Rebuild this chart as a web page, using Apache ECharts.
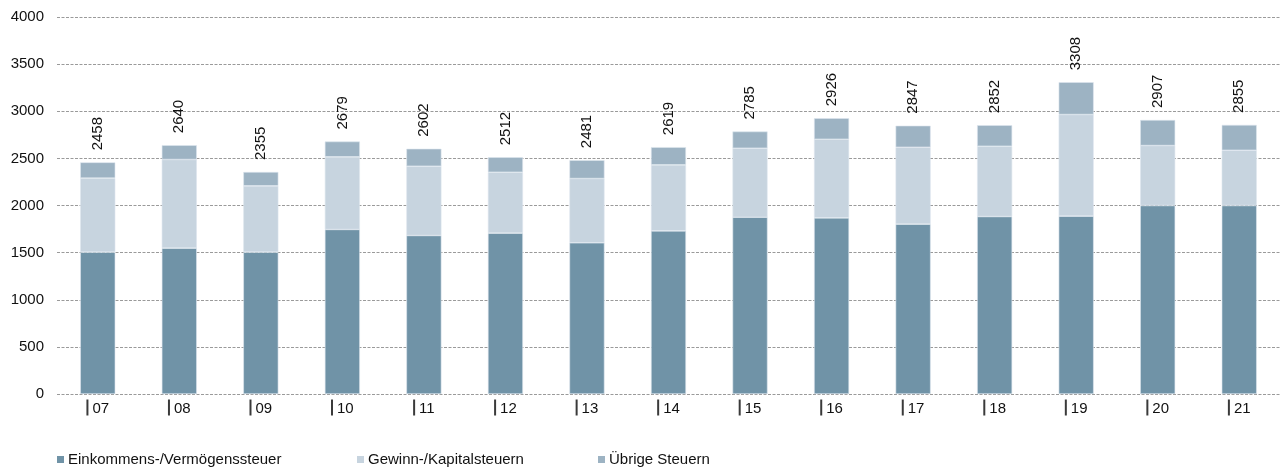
<!DOCTYPE html>
<html>
<head>
<meta charset="utf-8">
<title>Steuereinnahmen</title>
<script src="https://cdn.jsdelivr.net/npm/echarts@6/dist/echarts.min.js"></script>
<style>
  html, body { margin: 0; padding: 0; background: #ffffff; }
  #chart { width: 1280px; height: 468px; }
</style>
</head>
<body>
<div id="chart"></div>
<script>
// Jahre (Achsenbeschriftung)
const years = ['07', '08', '09', '10', '11', '12', '13', '14', '15', '16', '17', '18', '19', '20', '21'];

// Steuerarten, gestapelt
const einkommenVermoegen = [1505, 1548, 1505, 1746, 1682, 1707, 1604, 1731, 1876, 1869, 1802, 1883, 1887, 2000, 2000];
const gewinnKapital      = [785, 940, 703, 770, 735, 646, 682, 700, 732, 834, 816, 746, 1078, 636, 586];
const uebrige            = [168, 152, 147, 163, 185, 159, 195, 188, 177, 223, 229, 223, 343, 271, 269];

const seriesNames = ['Einkommens-/Vermögenssteuer', 'Gewinn-/Kapitalsteuern', 'Übrige Steuern'];
const colors = ['#7093a7', '#c7d4df', '#9db3c3'];

const FONT = '"Liberation Sans", Arial, Helvetica, sans-serif';
const TEXT = '#111';

const chart = echarts.init(document.getElementById('chart'), null, { renderer: 'canvas' });

function total(i) {
  return einkommenVermoegen[i] + gewinnKapital[i] + uebrige[i];
}

const barStyle = (c) => ({ color: c, borderColor: '#dde6ee', borderWidth: 0.6 });

const legendBase = {
  orient: 'horizontal',
  top: 452,
  padding: 0,
  itemWidth: 7,
  itemHeight: 7,
  icon: 'rect',
  selectedMode: false,
  itemStyle: { borderWidth: 0 },
  textStyle: { fontFamily: FONT, fontSize: 15, color: TEXT, padding: [0, 0, 0, -1] }
};

chart.setOption({
  animation: false,
  backgroundColor: '#ffffff',
  textStyle: { fontFamily: FONT },
  grid: { left: 57, right: 0, top: 17, bottom: 74, containLabel: false },
  legend: [
    Object.assign({}, legendBase, { left: 57, data: [seriesNames[0]] }),
    Object.assign({}, legendBase, { left: 357, data: [seriesNames[1]] }),
    Object.assign({}, legendBase, { left: 598, data: [seriesNames[2]] })
  ],
  xAxis: {
    type: 'category',
    data: years,
    axisLine: { show: false },
    axisTick: { show: false },
    axisLabel: {
      margin: 5,
      formatter: (v) => '{b| }{t|' + v + '}',
      rich: {
        b: { width: 2, height: 16, backgroundColor: '#3a3a3a' },
        t: { fontFamily: FONT, fontSize: 15, color: TEXT, padding: [2, 0, 0, 4] }
      }
    }
  },
  yAxis: {
    type: 'value',
    min: 0,
    max: 4000,
    interval: 500,
    axisLine: { show: false },
    axisTick: { show: false },
    axisLabel: {
      fontFamily: FONT, fontSize: 15, color: TEXT, margin: 13,
      formatter: (v) => String(v)
    },
    splitLine: { lineStyle: { color: '#9a9a9a', width: 1, type: [3, 1.5] } }
  },
  series: [
    {
      name: seriesNames[0], type: 'bar', stack: 'steuern', barWidth: '43%',
      itemStyle: barStyle(colors[0]), data: einkommenVermoegen
    },
    {
      name: seriesNames[1], type: 'bar', stack: 'steuern', barWidth: '43%',
      itemStyle: barStyle(colors[1]), data: gewinnKapital
    },
    {
      name: seriesNames[2], type: 'bar', stack: 'steuern', barWidth: '43%',
      itemStyle: barStyle(colors[2]), data: uebrige,
      label: {
        show: true,
        position: 'top',
        distance: 10,
        rotate: 90,
        align: 'left',
        verticalAlign: 'middle',
        offset: [2, 0],
        fontFamily: FONT,
        fontSize: 15,
        color: TEXT,
        formatter: (p) => String(total(p.dataIndex))
      }
    }
  ]
});
</script>
</body>
</html>
